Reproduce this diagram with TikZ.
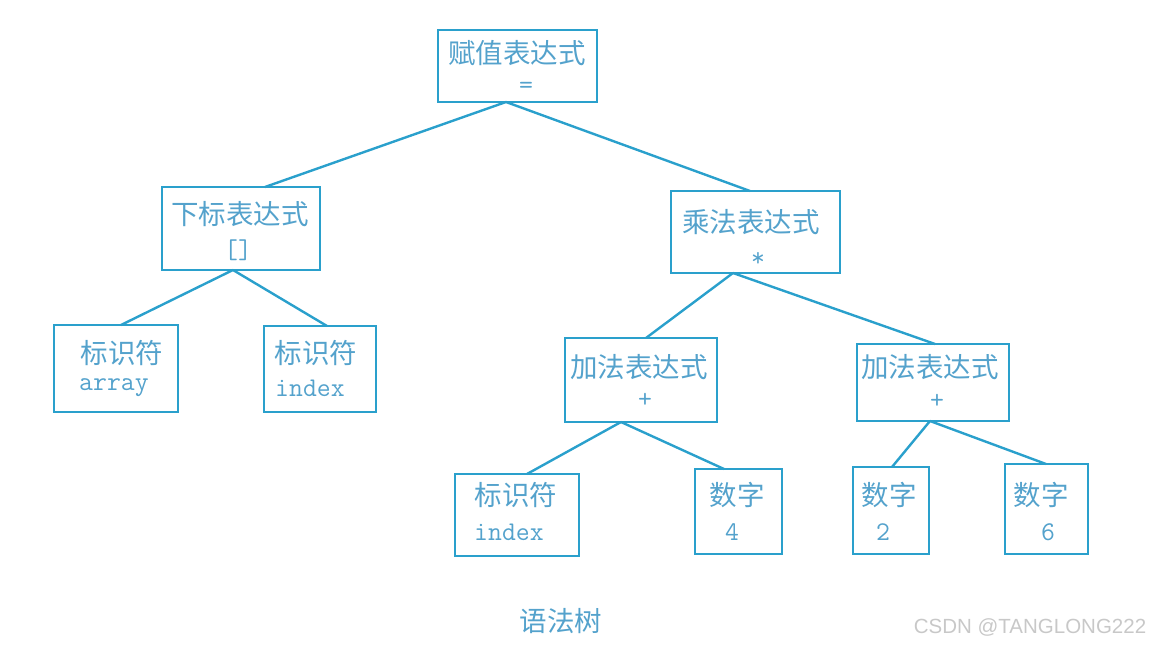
\documentclass[tikz,border=0pt]{standalone}
\usepackage{fontspec}
\newfontfamily\cjk{Noto Sans CJK SC}
\newfontfamily\wmfont{Liberation Sans}
\definecolor{boxc}{RGB}{42,160,204}
\definecolor{txtc}{RGB}{84,162,204}
\definecolor{wmc}{RGB}{200,200,200}
\begin{document}
\begin{tikzpicture}[x=1pt,y=-1pt,
  box/.style={draw=boxc,line width=2.8pt,inner sep=0pt,outer sep=0pt},
  cn/.style={text=txtc,inner sep=0pt,font=\cjk\fontsize{27.5}{30}\selectfont},
  lt/.style={text=txtc,inner sep=0pt,font=\ttfamily\fontsize{27}{30}\selectfont},
  edge/.style={draw=boxc,line width=2.4pt}]
\useasboundingbox (0,0) rectangle (1152,647);
% boxes
\node[box,minimum width=159pt,minimum height=72pt] (top) at (517.5,66) {};
\node[box,minimum width=158pt,minimum height=83pt] (sub) at (241,228.5) {};
\node[box,minimum width=169pt,minimum height=82pt] (mul) at (755.5,232) {};
\node[box,minimum width=124pt,minimum height=87pt] (arr) at (116,368.5) {};
\node[box,minimum width=112pt,minimum height=86pt] (idxa) at (320,369) {};
\node[box,minimum width=152pt,minimum height=84pt] (addl) at (641,380) {};
\node[box,minimum width=152pt,minimum height=77pt] (addr) at (933,382.5) {};
\node[box,minimum width=124pt,minimum height=82pt] (idxb) at (517,515) {};
\node[box,minimum width=87pt,minimum height=85pt] (nfour) at (738.5,511.5) {};
\node[box,minimum width=76pt,minimum height=87pt] (ntwo) at (891,510.5) {};
\node[box,minimum width=83pt,minimum height=90pt] (nsix) at (1046.5,509) {};
% texts
\node[cn] (t1) at (517,53) {赋值表达式};
\node[lt] (t1b) at (526,88) {=};
\node[cn] (t2) at (240,214) {下标表达式};
\node[lt] (t2b) at (238,250) {[]};
\node[cn] (t3) at (751,222) {乘法表达式};
\node[lt] (t3b) at (758,259) {*};
\node[cn] (t4) at (122,353) {标识符};
\node[lt] (t4b) at (114,388) {array};
\node[cn] (t5) at (316,353) {标识符};
\node[lt] (t5b) at (310,388) {index};
\node[cn] (t6) at (639,367) {加法表达式};
\node[lt] (t6b) at (645,400) {+};
\node[cn] (t7) at (930,367) {加法表达式};
\node[lt] (t7b) at (937,401) {+};
\node[cn] (t8) at (516,495) {标识符};
\node[lt] (t8b) at (509,532) {index};
\node[cn] (t9) at (737,495) {数字};
\node[lt] (t9b) at (732,532) {4};
\node[cn] (t10) at (889,495) {数字};
\node[lt] (t10b) at (883,532) {2};
\node[cn] (t11) at (1041,495) {数字};
\node[lt] (t11b) at (1048,532) {6};
\node[cn] (cap) at (561,621) {语法树};
\node[text=wmc,inner sep=0pt,font=\wmfont\fontsize{20.5}{24}\selectfont] (wm) at (1030,627) {CSDN @TANGLONG222};
% connectors
\draw[edge] ([xshift=-11.5pt]top.south) -- ([xshift=24pt]sub.north);
\draw[edge] ([xshift=-11.5pt]top.south) -- ([xshift=-5.5pt]mul.north);
\draw[edge] ([xshift=-8pt]sub.south) -- ([xshift=5pt]arr.north);
\draw[edge] ([xshift=-8pt]sub.south) -- ([xshift=7pt]idxa.north);
\draw[edge] ([xshift=-22.5pt]mul.south) -- ([xshift=5pt]addl.north);
\draw[edge] ([xshift=-22.5pt]mul.south) -- ([xshift=2pt]addr.north);
\draw[edge] ([xshift=-20pt]addl.south) -- ([xshift=10pt]idxb.north);
\draw[edge] ([xshift=-20pt]addl.south) -- ([xshift=-14.5pt]nfour.north);
\draw[edge] ([xshift=-3pt]addr.south) -- ([xshift=1pt]ntwo.north);
\draw[edge] ([xshift=-3pt]addr.south) -- ([xshift=-0.5pt]nsix.north);
\end{tikzpicture}
\end{document}
